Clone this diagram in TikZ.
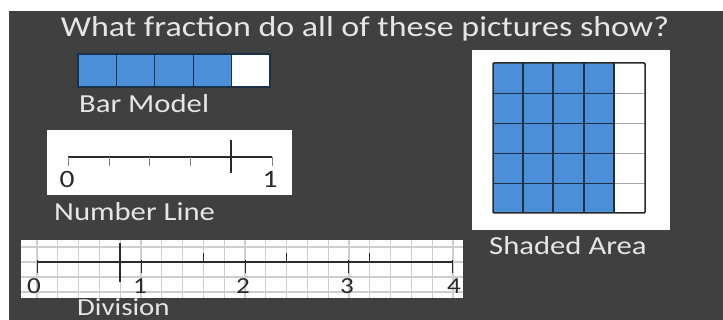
\documentclass[tikz,border=0pt]{standalone}
\usepackage{fontspec}
\setmainfont{Carlito}[FakeStretch=1.18]
\definecolor{bg}{HTML}{404040}
\definecolor{fblue}{HTML}{4A8FD8}
\definecolor{navy}{HTML}{1C3048}
\definecolor{lab}{HTML}{E6E6E6}
\definecolor{gridc}{HTML}{CDCDCD}
\definecolor{ink}{HTML}{2A2A2A}
\begin{document}
\begin{tikzpicture}[x=1pt,y=-1pt,
  lbl/.style={text=lab,inner sep=0pt,font=\fontsize{26}{28}\selectfont},
  num/.style={text=ink,inner sep=0pt,font=\fontsize{25}{27}\selectfont},
  bluecell/.style={fill=fblue,draw=navy,line width=1.2pt},
  whitecell/.style={fill=white,draw=navy,line width=1.2pt}]
\useasboundingbox (0,0) rectangle (723,320);
\fill[white] (0,0) rectangle (723,320);
\fill[bg] (9,11) rectangle (723,320);
% title
\node[text=lab,inner sep=0pt,font=\fontsize{28.8}{31}\selectfont] (title) at (365,29) {What fraction do all of these pictures show?};
% bar model
\foreach \i in {0,1,2,3} {\draw[bluecell] (78+38.4*\i,54) rectangle (78+38.4*\i+38.4,87);}
\draw[whitecell] (231.6,54) rectangle (270,87);
\node[lbl,anchor=west] (barlbl) at (79,104) {Bar Model};
% number line box
\fill[white] (47,130) rectangle (292,195);
\draw[ink,line width=1.3pt] (68,157) coordinate (nl0) -- (272,157) coordinate (nl1);
\foreach \x in {68,109,149,190,272} {\draw[gray,line width=1pt] (\x,157) -- (\x,166);}
\draw[ink,line width=1.5pt] (231,140) -- (231,173);
\node[num] (nlzero) at (67,179) {0};
\node[num] (nlone) at (270,179) {1};
\node[lbl,anchor=west] (nllbl) at (54,212) {Number Line};
% division box
\begin{scope}
\clip (21,240) rectangle (463,298);
\fill[white] (21,240) rectangle (463,298);
\foreach \k in {-1,...,21} {\draw[gridc,line width=1.2pt] (37+20.8*\k,240) -- (37+20.8*\k,298);}
\foreach \y in {247,262,277,292} {\draw[gridc,line width=1.2pt] (21,\y) -- (463,\y);}
\end{scope}
\draw[ink,line width=1.3pt] (37,262) coordinate (dv0) -- (452,262) coordinate (dv4);
\foreach \x in {37,141,245,348,452} {\draw[ink,line width=1pt] (\x,260) -- (\x,273);}
\foreach \x in {203.4,286.6,369.8} {\draw[ink,line width=1pt] (\x,253) -- (\x,262);}
\draw[ink,line width=1.5pt] (120.2,243) -- (120.2,282);
\node[num,font=\fontsize{23}{25}\selectfont] (dz) at (34,286) {0};
\node[num,font=\fontsize{23}{25}\selectfont] (d1) at (140,286) {1};
\node[num,font=\fontsize{23}{25}\selectfont] (d2) at (243,286) {2};
\node[num,font=\fontsize{23}{25}\selectfont] (d3) at (347,286) {3};
\node[num,font=\fontsize{23}{25}\selectfont] (d4) at (454,286) {4};
\node[lbl,anchor=base west,font=\fontsize{24.5}{26}\selectfont] (dvlbl) at (77,316) {Division};
% shaded area
\fill[white] (472,50) rectangle (670,230);
\fill[fblue] (493,63) rectangle (614,213);
\foreach \y in {93,123,153,183} {\draw[gray!70,line width=0.8pt] (614,\y) -- (645,\y);}
\foreach \y in {93,123,153,183} {\draw[navy,line width=0.9pt] (493,\y) -- (614,\y);}
\foreach \x in {523,553,584,614} {\draw[navy,line width=1.4pt] (\x,63) -- (\x,213);}
\draw[ink,line width=1.5pt,rounded corners=1pt] (493,63) rectangle (645,213);
\node[lbl,anchor=west] (salbl) at (489,246) {Shaded Area};
\end{tikzpicture}
\end{document}
